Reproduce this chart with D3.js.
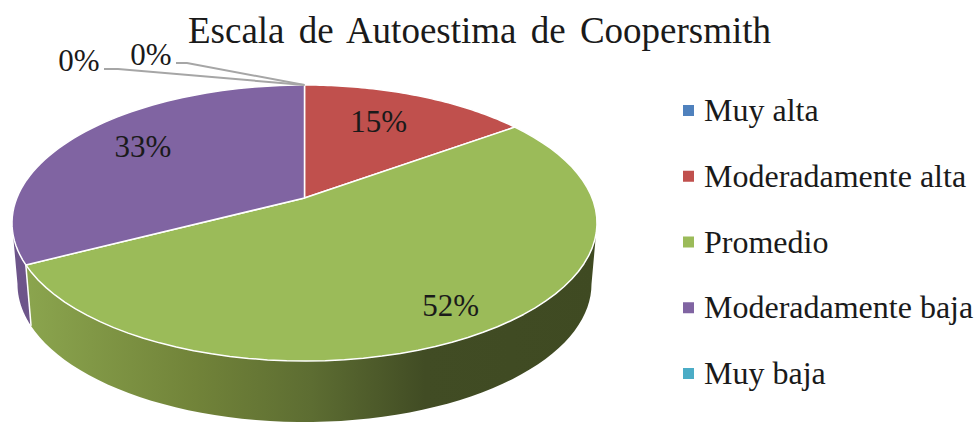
<!DOCTYPE html>
<html>
<head>
<meta charset="utf-8">
<script src="https://cdn.jsdelivr.net/npm/d3@7"></script>
<style>
  html, body { margin: 0; padding: 0; background: #fff; }
  text { font-family: "Liberation Serif", serif; fill: #1a1a1a; }
</style>
</head>
<body>
<svg width="977" height="423"></svg>
<script>
// values
var categories = ["Muy alta", "Moderadamente alta", "Promedio", "Moderadamente baja", "Muy baja"];
var shares = [0, 15, 52.4, 32.6, 0];
var shareLabels = ["0%", "15%", "52%", "33%", "0%"];
var colours = ["#4f81bd", "#c0504d", "#9bbb59", "#8064a2", "#4bacc6"];
var chartTitle = "Escala de Autoestima de Coopersmith";

var svg = d3.select("svg");

// top face: circle seen in perspective, apex is off the ellipse centre
var cx = 304.5, topY = 85, botY = 361, apexY = 198, halfW = 292.5;
var k = ((topY + botY) - 2 * apexY) / (topY - botY);
var A = botY * (1 + k) - apexY;
var C = halfW * Math.sqrt(1 - k * k);

function project(a, r) {
    var u = r * Math.sin(a), v = -r * Math.cos(a), w = 1 + k * v;
    return [cx + C * u / w, (A * v + apexY) / w];
}
// lower rim of the wall
var midY = (topY + botY) / 2;
function lower(p) {
    return [cx + (p[0] - cx) * 287 / halfW, p[1] - midY + 284];
}

var pie = d3.pie().sort(null).value(function(d) { return d; });
var arcs = pie(shares);

var line = d3.line();

function rimPoints(a0, a1) {
    return d3.range(0, 61).map(function(i) {
        return project(a0 + (a1 - a0) * i / 60, 1);
    });
}

// silhouette angles where the wall stops being visible
var tanRight = Math.acos(k), tanLeft = 2 * Math.PI - tanRight;

var defs = svg.append("defs");
var grad = defs.append("linearGradient").attr("id", "wallGreen")
    .attr("gradientUnits", "userSpaceOnUse")
    .attr("x1", 25).attr("x2", 597).attr("y1", 0).attr("y2", 0);
[[0, "#8ba54e"], [0.3, "#718339"], [0.5, "#5d6d32"], [0.7, "#414c24"], [1, "#3f4a22"]].forEach(function(s) {
    grad.append("stop").attr("offset", s[0]).attr("stop-color", s[1]);
});

// walls
arcs.forEach(function(d, i) {
    var a0 = Math.max(d.startAngle, tanRight), a1 = Math.min(d.endAngle, tanLeft);
    if (a1 <= a0) return;
    var top = rimPoints(a0, a1);
    var bottom = top.map(lower).reverse();
    svg.append("path")
        .attr("d", line(top.concat(bottom)) + "Z")
        .attr("fill", i == 2 ? "url(#wallGreen)" : d3.color(colours[i]).darker(0.45));
});
// white seam between purple and green walls
var seam = project(arcs[2].endAngle, 1);
svg.append("path")
    .attr("d", line([seam, lower(seam)]))
    .attr("stroke", "#fff").attr("stroke-width", 1.5).attr("fill", "none");

// top face
arcs.forEach(function(d, i) {
    if (d.endAngle - d.startAngle <= 0) return;
    var pts = [project(0, 0)].concat(rimPoints(d.startAngle, d.endAngle));
    svg.append("path")
        .attr("d", line(pts) + "Z")
        .attr("fill", colours[i])
        .attr("stroke", "#fff").attr("stroke-width", 1.5)
        .attr("stroke-linejoin", "round");
});

// value labels, radius fraction along the slice middle plus a small nudge
var labelFrac = [null, 0.72, 0.74, 0.72, null];
var labelNudge = [null, [-10, 0], [20, 13], [4, -5], null];
arcs.forEach(function(d, i) {
    if (labelFrac[i] === null) return;
    var p = project((d.startAngle + d.endAngle) / 2, labelFrac[i]);
    svg.append("text")
        .attr("x", p[0] + labelNudge[i][0])
        .attr("y", p[1] + labelNudge[i][1])
        .attr("text-anchor", "middle")
        .attr("dominant-baseline", "central")
        .style("font-size", "31px")
        .text(shareLabels[i]);
});

// leaders for the two empty slices
var apex = project(0, 1);
var leaders = [
    { i: 0, x: 79, y: 60, knee: [[104, 69], [118, 69]] },
    { i: 4, x: 151, y: 54, knee: [[176, 63], [187, 63]] }
];
leaders.forEach(function(l) {
    svg.append("path")
        .attr("d", line(l.knee.concat([apex])))
        .attr("fill", "none")
        .attr("stroke", "#a6a6a6").attr("stroke-width", 2);
    svg.append("text")
        .attr("x", l.x).attr("y", l.y)
        .attr("text-anchor", "middle")
        .attr("dominant-baseline", "central")
        .style("font-size", "31px")
        .text(shareLabels[l.i]);
});

// title
svg.append("text")
    .attr("x", 479.5).attr("y", 43)
    .attr("text-anchor", "middle")
    .style("font-size", "37px")
    .style("word-spacing", "5px")
    .text(chartTitle);

// legend
var legendY = d3.scalePoint().domain(categories).range([110, 373]);
var legend = svg.selectAll(".legend").data(categories).enter().append("g")
    .attr("class", "legend")
    .attr("transform", function(d) { return "translate(683," + legendY(d) + ")"; });
legend.append("rect")
    .attr("x", 0).attr("y", -5).attr("width", 11).attr("height", 11)
    .attr("fill", function(d, i) { return colours[i]; });
legend.append("text")
    .attr("x", 21).attr("y", 0)
    .attr("dominant-baseline", "central")
    .style("font-size", "32px")
    .text(function(d) { return d; });
</script>
</body>
</html>
